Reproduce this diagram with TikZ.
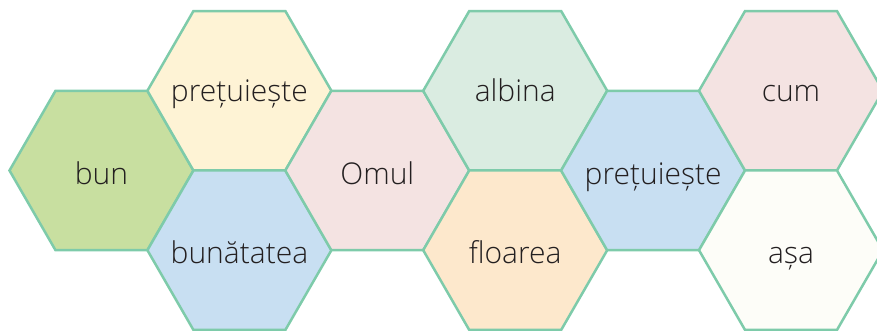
\documentclass[tikz,border=0pt]{standalone}
\usepackage{fontspec}
\setmainfont{Open Sans Light}
\definecolor{edge}{RGB}{126,203,170}
\definecolor{txt}{RGB}{35,31,32}
\definecolor{cgreen}{RGB}{200,223,160}
\definecolor{cyellow}{RGB}{254,243,213}
\definecolor{cpink}{RGB}{244,227,226}
\definecolor{cmint}{RGB}{218,236,225}
\definecolor{cblue}{RGB}{200,223,242}
\definecolor{corange}{RGB}{253,232,204}
\definecolor{cwhite}{RGB}{253,253,248}
\tikzset{
  hexedge/.style={draw=edge, line width=2.5pt, line join=miter},
  hexlabel/.style={text=txt, inner sep=0pt, anchor=base, font=\fontsize{30}{34}\selectfont}
}
% #1 name, #2 x, #3 y, #4 fill, #5 text, #6 baseline drop
\newcommand{\hexcell}[6]{%
  \filldraw[hexedge, fill=#4] (#2,#3) ++(92,0) -- ++(-46,79.7) -- ++(-92,0)
     -- ++(-46,-79.7) -- ++(46,-79.7) -- ++(92,0) -- cycle;
  \node[hexlabel, yshift=-#6pt] (#1) at (#2,#3) {#5};}
\begin{document}
\begin{tikzpicture}[x=1pt,y=-1pt]
\useasboundingbox (0,0) rectangle (877,331);
\hexcell{bun}{101.5}{170.5}{cgreen}{bun}{14}
\hexcell{pret1}{239.4}{90.8}{cyellow}{prețuiește}{10.5}
\hexcell{buna}{239.4}{250.2}{cblue}{bunătatea}{13}
\hexcell{omul}{377.3}{170.5}{cpink}{Omul}{14}
\hexcell{alb}{515.2}{90.8}{cmint}{albina}{10.5}
\hexcell{flo}{515.2}{250.2}{corange}{floarea}{13}
\hexcell{pret2}{653.1}{170.5}{cblue}{prețuiește}{14}
\hexcell{cum}{791}{90.8}{cpink}{cum}{10.5}
\hexcell{asa}{791}{250.2}{cwhite}{așa}{13}
\end{tikzpicture}
\end{document}
